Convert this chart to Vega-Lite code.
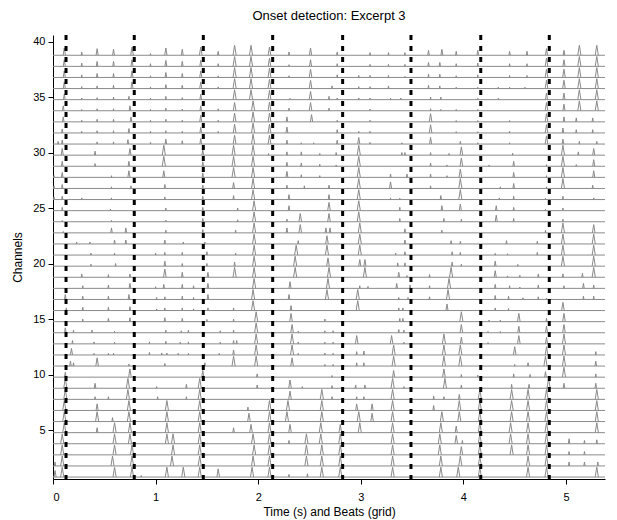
{"$schema":"https://vega.github.io/schema/vega-lite/v6.json","width":552,"height":444,"autosize":{"type":"none"},"padding":{"left":53,"top":35,"right":12,"bottom":41},"background":"white","config":{"font":"Liberation Sans","view":{"stroke":null},"axis":{"grid":false,"tickSize":5,"labelFontSize":11,"titleFontSize":12,"titleFontWeight":"normal","domainColor":"#000","tickColor":"#000","labelColor":"#000","titleColor":"#000"}},"title":{"text":"Onset detection: Excerpt 3","fontSize":13,"fontWeight":"normal","color":"#000","offset":11},
"datasets":{"channels":[{"c":1},{"c":2},{"c":3},{"c":4},{"c":5},{"c":6},{"c":7},{"c":8},{"c":9},{"c":10},{"c":11},{"c":12},{"c":13},{"c":14},{"c":15},{"c":16},{"c":17},{"c":18},{"c":19},{"c":20},{"c":21},{"c":22},{"c":23},{"c":24},{"c":25},{"c":26},{"c":27},{"c":28},{"c":29},{"c":30},{"c":31},{"c":32},{"c":33},{"c":34},{"c":35},{"c":36},{"c":37},{"c":38},{"c":39}],
"beats":[{"t":0.127},{"t":0.792},{"t":1.465},{"t":2.141},{"t":2.823},{"t":3.489},{"t":4.169},{"t":4.837}],
"peaks":[
{"c":39,"t":0.11,"h":0.66},{"c":39,"t":0.28,"h":0.3},{"c":39,"t":0.43,"h":0.6},{"c":39,"t":0.59,"h":0.54},{"c":39,"t":0.77,"h":0.75},{"c":39,"t":0.95,"h":0.15},{"c":39,"t":1.10,"h":0.66},{"c":39,"t":1.26,"h":0.54},{"c":39,"t":1.44,"h":0.75},{"c":39,"t":1.61,"h":0.36},{"c":39,"t":1.77,"h":0.9},{"c":39,"t":1.93,"h":0.9},{"c":39,"t":2.11,"h":0.75},{"c":39,"t":2.30,"h":0.3},{"c":39,"t":2.51,"h":0.66},{"c":39,"t":2.77,"h":0.3},{"c":39,"t":3.09,"h":0.24},{"c":39,"t":3.27,"h":0.24},{"c":39,"t":3.43,"h":0.24},{"c":39,"t":3.66,"h":0.45},{"c":39,"t":3.79,"h":0.54},{"c":39,"t":3.93,"h":0.36},{"c":39,"t":4.14,"h":0.45},{"c":39,"t":4.45,"h":0.36},{"c":39,"t":4.62,"h":0.36},{"c":39,"t":4.81,"h":0.6},{"c":39,"t":4.98,"h":0.45},{"c":39,"t":5.13,"h":0.9},{"c":39,"t":5.30,"h":0.9},
{"c":38,"t":0.11,"h":0.6},{"c":38,"t":0.28,"h":0.3},{"c":38,"t":0.43,"h":0.45},{"c":38,"t":0.59,"h":0.45},{"c":38,"t":0.77,"h":0.6},{"c":38,"t":0.95,"h":0.24},{"c":38,"t":1.10,"h":0.54},{"c":38,"t":1.26,"h":0.45},{"c":38,"t":1.44,"h":0.54},{"c":38,"t":1.61,"h":0.24},{"c":38,"t":1.77,"h":0.9},{"c":38,"t":1.93,"h":0.9},{"c":38,"t":2.11,"h":0.75},{"c":38,"t":2.30,"h":0.15},{"c":38,"t":2.51,"h":0.6},{"c":38,"t":2.77,"h":0.24},{"c":38,"t":3.09,"h":0.18},{"c":38,"t":3.27,"h":0.18},{"c":38,"t":3.43,"h":0.18},{"c":38,"t":3.66,"h":0.36},{"c":38,"t":3.77,"h":0.36},{"c":38,"t":3.93,"h":0.24},{"c":38,"t":4.14,"h":0.3},{"c":38,"t":4.45,"h":0.24},{"c":38,"t":4.62,"h":0.24},{"c":38,"t":4.81,"h":0.75},{"c":38,"t":4.98,"h":0.6},{"c":38,"t":5.13,"h":0.9},{"c":38,"t":5.30,"h":0.9},
{"c":37,"t":0.11,"h":0.6},{"c":37,"t":0.28,"h":0.24},{"c":37,"t":0.43,"h":0.36},{"c":37,"t":0.59,"h":0.36},{"c":37,"t":0.77,"h":0.6},{"c":37,"t":0.95,"h":0.15},{"c":37,"t":1.10,"h":0.45},{"c":37,"t":1.26,"h":0.36},{"c":37,"t":1.44,"h":0.6},{"c":37,"t":1.61,"h":0.15},{"c":37,"t":1.77,"h":0.9},{"c":37,"t":1.93,"h":0.9},{"c":37,"t":2.11,"h":0.84},{"c":37,"t":2.30,"h":0.15},{"c":37,"t":2.51,"h":0.75},{"c":37,"t":2.77,"h":0.24},{"c":37,"t":2.98,"h":0.18},{"c":37,"t":3.09,"h":0.18},{"c":37,"t":3.27,"h":0.18},{"c":37,"t":3.43,"h":0.1},{"c":37,"t":3.66,"h":0.3},{"c":37,"t":3.77,"h":0.3},{"c":37,"t":3.93,"h":0.15},{"c":37,"t":4.14,"h":0.24},{"c":37,"t":4.45,"h":0.18},{"c":37,"t":4.62,"h":0.18},{"c":37,"t":4.81,"h":0.75},{"c":37,"t":4.98,"h":0.75},{"c":37,"t":5.13,"h":0.9},{"c":37,"t":5.30,"h":0.9},
{"c":36,"t":0.11,"h":0.6},{"c":36,"t":0.28,"h":0.18},{"c":36,"t":0.43,"h":0.24},{"c":36,"t":0.59,"h":0.3},{"c":36,"t":0.77,"h":0.6},{"c":36,"t":0.95,"h":0.15},{"c":36,"t":1.10,"h":0.36},{"c":36,"t":1.26,"h":0.3},{"c":36,"t":1.44,"h":0.6},{"c":36,"t":1.61,"h":0.15},{"c":36,"t":1.77,"h":0.9},{"c":36,"t":1.93,"h":0.9},{"c":36,"t":2.11,"h":0.84},{"c":36,"t":2.51,"h":0.75},{"c":36,"t":2.72,"h":0.24},{"c":36,"t":2.98,"h":0.18},{"c":36,"t":3.09,"h":0.18},{"c":36,"t":3.27,"h":0.24},{"c":36,"t":3.66,"h":0.3},{"c":36,"t":3.77,"h":0.24},{"c":36,"t":3.93,"h":0.12},{"c":36,"t":4.14,"h":0.12},{"c":36,"t":4.34,"h":0.12},{"c":36,"t":4.45,"h":0.12},{"c":36,"t":4.60,"h":0.12},{"c":36,"t":4.81,"h":0.75},{"c":36,"t":4.98,"h":0.75},{"c":36,"t":5.13,"h":0.9},{"c":36,"t":5.30,"h":0.9},
{"c":35,"t":0.11,"h":0.5},{"c":35,"t":0.28,"h":0.15},{"c":35,"t":0.43,"h":0.18},{"c":35,"t":0.59,"h":0.24},{"c":35,"t":0.74,"h":0.3},{"c":35,"t":0.95,"h":0.15},{"c":35,"t":1.10,"h":0.3},{"c":35,"t":1.26,"h":0.18},{"c":35,"t":1.44,"h":0.5},{"c":35,"t":1.77,"h":0.9},{"c":35,"t":1.93,"h":0.9},{"c":35,"t":2.11,"h":0.84},{"c":35,"t":2.31,"h":0.12},{"c":35,"t":2.51,"h":0.75},{"c":35,"t":2.69,"h":0.3},{"c":35,"t":2.77,"h":0.15},{"c":35,"t":2.98,"h":0.15},{"c":35,"t":3.09,"h":0.15},{"c":35,"t":3.29,"h":0.15},{"c":35,"t":3.39,"h":0.15},{"c":35,"t":3.68,"h":0.24},{"c":35,"t":3.78,"h":0.24},{"c":35,"t":4.14,"h":0.12},{"c":35,"t":4.34,"h":0.12},{"c":35,"t":4.81,"h":0.6},{"c":35,"t":4.98,"h":0.6},{"c":35,"t":5.13,"h":0.9},{"c":35,"t":5.30,"h":0.9},
{"c":34,"t":0.10,"h":0.45},{"c":34,"t":0.28,"h":0.12},{"c":34,"t":0.43,"h":0.18},{"c":34,"t":0.59,"h":0.18},{"c":34,"t":0.75,"h":0.45},{"c":34,"t":0.95,"h":0.12},{"c":34,"t":1.10,"h":0.24},{"c":34,"t":1.26,"h":0.15},{"c":34,"t":1.44,"h":0.45},{"c":34,"t":1.61,"h":0.18},{"c":34,"t":1.77,"h":0.75},{"c":34,"t":1.95,"h":0.9},{"c":34,"t":2.11,"h":0.8},{"c":34,"t":2.30,"h":0.24},{"c":34,"t":2.51,"h":0.75},{"c":34,"t":2.69,"h":0.24},{"c":34,"t":3.09,"h":0.15},{"c":34,"t":3.68,"h":0.18},{"c":34,"t":3.78,"h":0.12},{"c":34,"t":3.93,"h":0.12},{"c":34,"t":4.14,"h":0.12},{"c":34,"t":4.81,"h":0.75},{"c":34,"t":4.98,"h":0.6},{"c":34,"t":5.13,"h":0.9},{"c":34,"t":5.30,"h":0.9},
{"c":33,"t":0.10,"h":0.45},{"c":33,"t":0.28,"h":0.15},{"c":33,"t":0.43,"h":0.24},{"c":33,"t":0.59,"h":0.24},{"c":33,"t":0.76,"h":0.45},{"c":33,"t":0.95,"h":0.15},{"c":33,"t":1.10,"h":0.24},{"c":33,"t":1.26,"h":0.15},{"c":33,"t":1.44,"h":0.6},{"c":33,"t":1.61,"h":0.15},{"c":33,"t":1.77,"h":0.8},{"c":33,"t":1.95,"h":0.9},{"c":33,"t":2.11,"h":0.8},{"c":33,"t":2.28,"h":0.45},{"c":33,"t":2.52,"h":0.66},{"c":33,"t":2.77,"h":0.15},{"c":33,"t":3.09,"h":0.15},{"c":33,"t":3.68,"h":0.75},{"c":33,"t":3.93,"h":0.12},{"c":33,"t":4.14,"h":0.12},{"c":33,"t":4.45,"h":0.12},{"c":33,"t":4.81,"h":0.75},{"c":33,"t":4.98,"h":0.45},{"c":33,"t":5.10,"h":0.36},{"c":33,"t":5.26,"h":0.36},
{"c":32,"t":0.09,"h":0.36},{"c":32,"t":0.28,"h":0.15},{"c":32,"t":0.43,"h":0.2},{"c":32,"t":0.59,"h":0.2},{"c":32,"t":0.74,"h":0.4},{"c":32,"t":0.95,"h":0.15},{"c":32,"t":1.10,"h":0.2},{"c":32,"t":1.26,"h":0.15},{"c":32,"t":1.44,"h":0.5},{"c":32,"t":1.61,"h":0.15},{"c":32,"t":1.77,"h":0.8},{"c":32,"t":1.95,"h":0.9},{"c":32,"t":2.11,"h":0.8},{"c":32,"t":2.28,"h":0.54},{"c":32,"t":2.77,"h":0.3},{"c":32,"t":2.98,"h":0.15},{"c":32,"t":3.09,"h":0.15},{"c":32,"t":3.68,"h":0.75},{"c":32,"t":3.93,"h":0.12},{"c":32,"t":4.14,"h":0.12},{"c":32,"t":4.45,"h":0.15},{"c":32,"t":4.81,"h":0.75},{"c":32,"t":4.97,"h":0.45},{"c":32,"t":5.10,"h":0.3},{"c":32,"t":5.26,"h":0.3},
{"c":31,"t":0.05,"h":0.24},{"c":31,"t":0.09,"h":0.36},{"c":31,"t":0.43,"h":0.2},{"c":31,"t":0.59,"h":0.2},{"c":31,"t":0.73,"h":0.4},{"c":31,"t":0.95,"h":0.15},{"c":31,"t":1.10,"h":0.45},{"c":31,"t":1.26,"h":0.3},{"c":31,"t":1.44,"h":0.5},{"c":31,"t":1.77,"h":0.8},{"c":31,"t":1.95,"h":0.9},{"c":31,"t":2.11,"h":0.8},{"c":31,"t":2.28,"h":0.36},{"c":31,"t":2.42,"h":0.12},{"c":31,"t":2.54,"h":0.12},{"c":31,"t":2.77,"h":0.36},{"c":31,"t":2.98,"h":0.6},{"c":31,"t":3.09,"h":0.15},{"c":31,"t":3.40,"h":0.12},{"c":31,"t":3.68,"h":0.6},{"c":31,"t":3.97,"h":0.24},{"c":31,"t":4.14,"h":0.12},{"c":31,"t":4.45,"h":0.12},{"c":31,"t":4.81,"h":0.75},{"c":31,"t":4.97,"h":0.45},{"c":31,"t":5.13,"h":0.24},{"c":31,"t":5.30,"h":0.24},
{"c":30,"t":0.09,"h":0.6},{"c":30,"t":0.41,"h":0.36},{"c":30,"t":0.75,"h":0.6},{"c":30,"t":1.08,"h":0.9},{"c":30,"t":1.46,"h":0.5},{"c":30,"t":1.76,"h":0.9},{"c":30,"t":1.95,"h":0.9},{"c":30,"t":2.10,"h":0.15},{"c":30,"t":2.28,"h":0.3},{"c":30,"t":2.42,"h":0.3},{"c":30,"t":2.60,"h":0.15},{"c":30,"t":2.76,"h":0.24},{"c":30,"t":2.98,"h":0.9},{"c":30,"t":3.40,"h":0.24},{"c":30,"t":3.43,"h":0.24},{"c":30,"t":3.68,"h":0.24},{"c":30,"t":3.86,"h":0.15},{"c":30,"t":3.98,"h":0.75},{"c":30,"t":4.48,"h":0.18},{"c":30,"t":4.97,"h":0.9},{"c":30,"t":5.12,"h":0.3},{"c":30,"t":5.27,"h":0.6},
{"c":29,"t":0.09,"h":0.45},{"c":29,"t":0.41,"h":0.24},{"c":29,"t":0.74,"h":0.45},{"c":29,"t":1.08,"h":0.9},{"c":29,"t":1.46,"h":0.4},{"c":29,"t":1.76,"h":0.9},{"c":29,"t":1.95,"h":0.9},{"c":29,"t":2.28,"h":0.36},{"c":29,"t":2.42,"h":0.3},{"c":29,"t":2.60,"h":0.18},{"c":29,"t":2.76,"h":0.12},{"c":29,"t":2.98,"h":0.9},{"c":29,"t":3.68,"h":0.3},{"c":29,"t":3.84,"h":0.12},{"c":29,"t":3.98,"h":0.75},{"c":29,"t":4.25,"h":0.12},{"c":29,"t":4.49,"h":0.45},{"c":29,"t":4.81,"h":0.15},{"c":29,"t":4.97,"h":0.9},{"c":29,"t":5.10,"h":0.15},{"c":29,"t":5.27,"h":0.6},
{"c":28,"t":0.01,"h":0.15},{"c":28,"t":0.09,"h":0.45},{"c":28,"t":0.57,"h":0.15},{"c":28,"t":0.74,"h":0.6},{"c":28,"t":1.08,"h":0.6},{"c":28,"t":1.46,"h":0.4},{"c":28,"t":1.76,"h":0.9},{"c":28,"t":1.95,"h":0.9},{"c":28,"t":2.28,"h":0.54},{"c":28,"t":2.42,"h":0.24},{"c":28,"t":2.60,"h":0.15},{"c":28,"t":2.98,"h":0.9},{"c":28,"t":3.29,"h":0.3},{"c":28,"t":3.45,"h":0.3},{"c":28,"t":3.68,"h":0.3},{"c":28,"t":3.84,"h":0.15},{"c":28,"t":3.97,"h":0.75},{"c":28,"t":4.49,"h":0.45},{"c":28,"t":4.81,"h":0.15},{"c":28,"t":4.97,"h":0.9},{"c":28,"t":5.27,"h":0.6},
{"c":27,"t":0.01,"h":0.24},{"c":27,"t":0.09,"h":0.36},{"c":27,"t":0.57,"h":0.15},{"c":27,"t":0.76,"h":0.24},{"c":27,"t":1.09,"h":0.36},{"c":27,"t":1.46,"h":0.3},{"c":27,"t":1.76,"h":0.54},{"c":27,"t":1.95,"h":0.9},{"c":27,"t":2.28,"h":0.3},{"c":27,"t":2.45,"h":0.24},{"c":27,"t":2.69,"h":0.3},{"c":27,"t":2.98,"h":0.9},{"c":27,"t":3.29,"h":0.6},{"c":27,"t":3.68,"h":0.24},{"c":27,"t":3.97,"h":0.9},{"c":27,"t":4.36,"h":0.15},{"c":27,"t":4.49,"h":0.45},{"c":27,"t":4.81,"h":0.15},{"c":27,"t":4.97,"h":0.9},{"c":27,"t":5.26,"h":0.3},
{"c":26,"t":0.01,"h":0.24},{"c":26,"t":0.09,"h":0.3},{"c":26,"t":0.28,"h":0.15},{"c":26,"t":0.57,"h":0.15},{"c":26,"t":1.09,"h":0.24},{"c":26,"t":1.46,"h":0.3},{"c":26,"t":1.76,"h":0.36},{"c":26,"t":1.95,"h":0.9},{"c":26,"t":2.30,"h":0.45},{"c":26,"t":2.69,"h":0.45},{"c":26,"t":2.98,"h":0.9},{"c":26,"t":3.29,"h":0.15},{"c":26,"t":3.38,"h":0.12},{"c":26,"t":3.78,"h":0.36},{"c":26,"t":3.97,"h":0.9},{"c":26,"t":4.35,"h":0.15},{"c":26,"t":4.49,"h":0.3},{"c":26,"t":4.80,"h":0.12},{"c":26,"t":4.97,"h":0.3},{"c":26,"t":5.27,"h":0.15},
{"c":25,"t":0.09,"h":0.3},{"c":25,"t":0.56,"h":0.15},{"c":25,"t":1.10,"h":0.24},{"c":25,"t":1.46,"h":0.3},{"c":25,"t":1.80,"h":0.24},{"c":25,"t":1.96,"h":0.9},{"c":25,"t":2.30,"h":0.45},{"c":25,"t":2.69,"h":0.75},{"c":25,"t":2.98,"h":0.9},{"c":25,"t":3.38,"h":0.3},{"c":25,"t":3.79,"h":0.45},{"c":25,"t":3.97,"h":0.6},{"c":25,"t":4.32,"h":0.45},{"c":25,"t":4.49,"h":0.3},{"c":25,"t":4.80,"h":0.12},{"c":25,"t":4.97,"h":0.24},
{"c":24,"t":0.09,"h":0.12},{"c":24,"t":0.57,"h":0.12},{"c":24,"t":1.10,"h":0.15},{"c":24,"t":1.46,"h":0.3},{"c":24,"t":1.80,"h":0.18},{"c":24,"t":1.96,"h":0.9},{"c":24,"t":2.28,"h":0.24},{"c":24,"t":2.41,"h":0.75},{"c":24,"t":2.69,"h":0.75},{"c":24,"t":2.98,"h":0.9},{"c":24,"t":3.38,"h":0.3},{"c":24,"t":3.81,"h":0.3},{"c":24,"t":3.98,"h":0.24},{"c":24,"t":4.32,"h":0.6},{"c":24,"t":4.49,"h":0.3},{"c":24,"t":4.97,"h":0.24},
{"c":23,"t":0.10,"h":0.12},{"c":23,"t":0.57,"h":0.45},{"c":23,"t":0.71,"h":0.45},{"c":23,"t":1.10,"h":0.24},{"c":23,"t":1.46,"h":0.3},{"c":23,"t":1.78,"h":0.24},{"c":23,"t":1.96,"h":0.9},{"c":23,"t":2.28,"h":0.45},{"c":23,"t":2.41,"h":0.75},{"c":23,"t":2.66,"h":0.45},{"c":23,"t":2.70,"h":0.45},{"c":23,"t":2.99,"h":0.9},{"c":23,"t":3.43,"h":0.36},{"c":23,"t":3.79,"h":0.24},{"c":23,"t":4.80,"h":0.24},{"c":23,"t":4.97,"h":0.9},{"c":23,"t":5.27,"h":0.75},
{"c":22,"t":0.23,"h":0.18},{"c":22,"t":0.36,"h":0.18},{"c":22,"t":0.60,"h":0.36},{"c":22,"t":0.71,"h":0.36},{"c":22,"t":1.09,"h":0.36},{"c":22,"t":1.27,"h":0.18},{"c":22,"t":1.48,"h":0.18},{"c":22,"t":1.96,"h":0.9},{"c":22,"t":2.39,"h":0.3},{"c":22,"t":2.67,"h":0.75},{"c":22,"t":2.99,"h":0.9},{"c":22,"t":3.43,"h":0.36},{"c":22,"t":3.88,"h":0.3},{"c":22,"t":3.97,"h":0.24},{"c":22,"t":4.42,"h":0.3},{"c":22,"t":4.72,"h":0.24},{"c":22,"t":4.97,"h":0.9},{"c":22,"t":5.27,"h":0.9},
{"c":21,"t":0.37,"h":0.18},{"c":21,"t":0.60,"h":0.18},{"c":21,"t":1.00,"h":0.18},{"c":21,"t":1.09,"h":0.24},{"c":21,"t":1.26,"h":0.24},{"c":21,"t":1.50,"h":0.3},{"c":21,"t":1.78,"h":0.18},{"c":21,"t":1.96,"h":0.9},{"c":21,"t":2.37,"h":0.9},{"c":21,"t":2.67,"h":0.9},{"c":21,"t":2.99,"h":0.9},{"c":21,"t":3.34,"h":0.18},{"c":21,"t":3.43,"h":0.3},{"c":21,"t":3.89,"h":0.3},{"c":21,"t":3.97,"h":0.24},{"c":21,"t":4.31,"h":0.15},{"c":21,"t":4.43,"h":0.12},{"c":21,"t":4.72,"h":0.24},{"c":21,"t":4.97,"h":0.9},{"c":21,"t":5.27,"h":0.9},
{"c":20,"t":0.37,"h":0.18},{"c":20,"t":0.61,"h":0.24},{"c":20,"t":1.09,"h":0.45},{"c":20,"t":1.26,"h":0.24},{"c":20,"t":1.50,"h":0.24},{"c":20,"t":1.77,"h":0.36},{"c":20,"t":1.96,"h":0.9},{"c":20,"t":2.36,"h":0.9},{"c":20,"t":2.68,"h":0.75},{"c":20,"t":2.99,"h":0.6},{"c":20,"t":3.04,"h":0.6},{"c":20,"t":3.36,"h":0.3},{"c":20,"t":3.43,"h":0.3},{"c":20,"t":3.89,"h":0.36},{"c":20,"t":3.98,"h":0.18},{"c":20,"t":4.31,"h":0.45},{"c":20,"t":4.53,"h":0.15},{"c":20,"t":4.97,"h":0.9},{"c":20,"t":5.27,"h":0.9},
{"c":19,"t":0.28,"h":0.3},{"c":19,"t":0.54,"h":0.24},{"c":19,"t":0.75,"h":0.3},{"c":19,"t":1.09,"h":0.75},{"c":19,"t":1.26,"h":0.45},{"c":19,"t":1.51,"h":0.45},{"c":19,"t":1.77,"h":0.9},{"c":19,"t":1.96,"h":0.9},{"c":19,"t":2.36,"h":0.9},{"c":19,"t":2.69,"h":0.9},{"c":19,"t":3.04,"h":0.9},{"c":19,"t":3.37,"h":0.45},{"c":19,"t":3.45,"h":0.15},{"c":19,"t":3.67,"h":0.24},{"c":19,"t":3.88,"h":0.9},{"c":19,"t":4.31,"h":0.6},{"c":19,"t":4.43,"h":0.12},{"c":19,"t":4.55,"h":0.18},{"c":19,"t":4.73,"h":0.3},{"c":19,"t":4.97,"h":0.3},{"c":19,"t":5.16,"h":0.36},{"c":19,"t":5.27,"h":0.9},
{"c":18,"t":0.29,"h":0.24},{"c":18,"t":0.54,"h":0.3},{"c":18,"t":0.75,"h":0.45},{"c":18,"t":1.00,"h":0.15},{"c":18,"t":1.08,"h":0.36},{"c":18,"t":1.26,"h":0.36},{"c":18,"t":1.37,"h":0.24},{"c":18,"t":1.51,"h":0.45},{"c":18,"t":1.96,"h":0.9},{"c":18,"t":2.31,"h":0.6},{"c":18,"t":2.68,"h":0.9},{"c":18,"t":2.99,"h":0.24},{"c":18,"t":3.07,"h":0.18},{"c":18,"t":3.35,"h":0.45},{"c":18,"t":3.48,"h":0.3},{"c":18,"t":3.67,"h":0.24},{"c":18,"t":3.86,"h":0.9},{"c":18,"t":4.31,"h":0.36},{"c":18,"t":4.45,"h":0.24},{"c":18,"t":4.55,"h":0.12},{"c":18,"t":4.73,"h":0.3},{"c":18,"t":4.98,"h":0.24},{"c":18,"t":5.17,"h":0.45},{"c":18,"t":5.27,"h":0.3},
{"c":17,"t":0.12,"h":0.45},{"c":17,"t":0.29,"h":0.3},{"c":17,"t":0.54,"h":0.3},{"c":17,"t":0.74,"h":0.45},{"c":17,"t":1.01,"h":0.18},{"c":17,"t":1.09,"h":0.24},{"c":17,"t":1.26,"h":0.3},{"c":17,"t":1.37,"h":0.18},{"c":17,"t":1.51,"h":0.45},{"c":17,"t":1.95,"h":0.9},{"c":17,"t":2.30,"h":0.45},{"c":17,"t":2.67,"h":0.9},{"c":17,"t":2.97,"h":0.9},{"c":17,"t":3.37,"h":0.18},{"c":17,"t":3.46,"h":0.18},{"c":17,"t":3.67,"h":0.24},{"c":17,"t":3.85,"h":0.9},{"c":17,"t":4.31,"h":0.36},{"c":17,"t":4.44,"h":0.3},{"c":17,"t":4.58,"h":0.15},{"c":17,"t":4.73,"h":0.24},{"c":17,"t":4.81,"h":0.12},{"c":17,"t":5.17,"h":0.3},{"c":17,"t":5.27,"h":0.3},
{"c":16,"t":0.13,"h":0.24},{"c":16,"t":0.29,"h":0.3},{"c":16,"t":0.54,"h":0.3},{"c":16,"t":0.75,"h":0.36},{"c":16,"t":1.01,"h":0.15},{"c":16,"t":1.09,"h":0.24},{"c":16,"t":1.26,"h":0.24},{"c":16,"t":1.37,"h":0.15},{"c":16,"t":1.51,"h":0.24},{"c":16,"t":1.76,"h":0.24},{"c":16,"t":1.95,"h":0.9},{"c":16,"t":2.32,"h":0.45},{"c":16,"t":2.97,"h":0.9},{"c":16,"t":3.37,"h":0.24},{"c":16,"t":3.41,"h":0.24},{"c":16,"t":3.84,"h":0.6},{"c":16,"t":4.31,"h":0.24},{"c":16,"t":4.44,"h":0.18},{"c":16,"t":4.97,"h":0.75},
{"c":15,"t":0.29,"h":0.24},{"c":15,"t":0.54,"h":0.3},{"c":15,"t":0.75,"h":0.36},{"c":15,"t":1.09,"h":0.36},{"c":15,"t":1.26,"h":0.3},{"c":15,"t":1.50,"h":0.2},{"c":15,"t":1.76,"h":0.24},{"c":15,"t":1.98,"h":0.9},{"c":15,"t":2.32,"h":0.75},{"c":15,"t":2.65,"h":0.24},{"c":15,"t":3.38,"h":0.3},{"c":15,"t":3.41,"h":0.3},{"c":15,"t":3.98,"h":0.9},{"c":15,"t":4.25,"h":0.15},{"c":15,"t":4.36,"h":0.15},{"c":15,"t":4.54,"h":0.75},{"c":15,"t":4.81,"h":0.3},{"c":15,"t":4.98,"h":0.75},
{"c":14,"t":0.12,"h":0.45},{"c":14,"t":0.20,"h":0.24},{"c":14,"t":0.38,"h":0.24},{"c":14,"t":0.60,"h":0.15},{"c":14,"t":1.10,"h":0.24},{"c":14,"t":1.25,"h":0.18},{"c":14,"t":1.32,"h":0.24},{"c":14,"t":1.63,"h":0.18},{"c":14,"t":1.76,"h":0.24},{"c":14,"t":1.98,"h":0.9},{"c":14,"t":2.33,"h":0.75},{"c":14,"t":2.39,"h":0.15},{"c":14,"t":2.65,"h":0.18},{"c":14,"t":2.73,"h":0.18},{"c":14,"t":3.37,"h":0.3},{"c":14,"t":3.42,"h":0.24},{"c":14,"t":3.98,"h":0.75},{"c":14,"t":4.24,"h":0.12},{"c":14,"t":4.36,"h":0.12},{"c":14,"t":4.54,"h":0.6},{"c":14,"t":4.81,"h":0.6},{"c":14,"t":4.98,"h":0.75},
{"c":13,"t":0.19,"h":0.3},{"c":13,"t":0.40,"h":0.18},{"c":13,"t":0.60,"h":0.15},{"c":13,"t":0.94,"h":0.18},{"c":13,"t":1.10,"h":0.24},{"c":13,"t":1.24,"h":0.15},{"c":13,"t":1.32,"h":0.18},{"c":13,"t":1.63,"h":0.15},{"c":13,"t":1.76,"h":0.3},{"c":13,"t":1.79,"h":0.3},{"c":13,"t":1.98,"h":0.9},{"c":13,"t":2.33,"h":0.9},{"c":13,"t":2.39,"h":0.18},{"c":13,"t":2.65,"h":0.15},{"c":13,"t":2.73,"h":0.15},{"c":13,"t":2.96,"h":0.75},{"c":13,"t":3.30,"h":0.75},{"c":13,"t":3.42,"h":0.15},{"c":13,"t":3.81,"h":0.9},{"c":13,"t":3.98,"h":0.6},{"c":13,"t":4.24,"h":0.12},{"c":13,"t":4.54,"h":0.75},{"c":13,"t":4.81,"h":0.6},{"c":13,"t":4.98,"h":0.9},
{"c":12,"t":0.18,"h":0.6},{"c":12,"t":0.40,"h":0.15},{"c":12,"t":0.54,"h":0.15},{"c":12,"t":0.59,"h":0.15},{"c":12,"t":0.94,"h":0.24},{"c":12,"t":1.06,"h":0.18},{"c":12,"t":1.11,"h":0.18},{"c":12,"t":1.22,"h":0.15},{"c":12,"t":1.32,"h":0.15},{"c":12,"t":1.62,"h":0.15},{"c":12,"t":1.76,"h":0.45},{"c":12,"t":1.98,"h":0.9},{"c":12,"t":2.33,"h":0.9},{"c":12,"t":2.39,"h":0.15},{"c":12,"t":2.65,"h":0.18},{"c":12,"t":2.73,"h":0.15},{"c":12,"t":2.96,"h":0.3},{"c":12,"t":3.03,"h":0.36},{"c":12,"t":3.32,"h":0.9},{"c":12,"t":3.81,"h":0.9},{"c":12,"t":3.97,"h":0.9},{"c":12,"t":4.50,"h":0.75},{"c":12,"t":4.81,"h":0.75},{"c":12,"t":4.98,"h":0.9},{"c":12,"t":5.29,"h":0.3},
{"c":11,"t":0.17,"h":0.45},{"c":11,"t":0.20,"h":0.3},{"c":11,"t":0.43,"h":0.75},{"c":11,"t":0.74,"h":0.18},{"c":11,"t":1.09,"h":0.24},{"c":11,"t":1.48,"h":0.3},{"c":11,"t":1.76,"h":0.9},{"c":11,"t":1.98,"h":0.9},{"c":11,"t":2.33,"h":0.75},{"c":11,"t":2.65,"h":0.15},{"c":11,"t":2.73,"h":0.15},{"c":11,"t":2.96,"h":0.3},{"c":11,"t":3.03,"h":0.3},{"c":11,"t":3.32,"h":0.9},{"c":11,"t":3.81,"h":0.9},{"c":11,"t":3.97,"h":0.9},{"c":11,"t":4.50,"h":0.15},{"c":11,"t":4.63,"h":0.3},{"c":11,"t":4.80,"h":0.9},{"c":11,"t":4.98,"h":0.9},{"c":11,"t":5.29,"h":0.45},
{"c":10,"t":0.12,"h":0.45},{"c":10,"t":0.75,"h":0.75},{"c":10,"t":1.46,"h":0.6},{"c":10,"t":1.99,"h":0.3},{"c":10,"t":2.72,"h":0.15},{"c":10,"t":3.32,"h":0.6},{"c":10,"t":3.81,"h":0.75},{"c":10,"t":3.98,"h":0.24},{"c":10,"t":4.14,"h":0.18},{"c":10,"t":4.49,"h":0.3},{"c":10,"t":4.65,"h":0.24},{"c":10,"t":4.80,"h":0.5},{"c":10,"t":4.98,"h":0.9},{"c":10,"t":5.29,"h":0.3},
{"c":9,"t":0.12,"h":0.9},{"c":9,"t":0.41,"h":0.45},{"c":9,"t":0.73,"h":0.9},{"c":9,"t":1.01,"h":0.15},{"c":9,"t":1.30,"h":0.36},{"c":9,"t":1.43,"h":0.9},{"c":9,"t":1.99,"h":0.3},{"c":9,"t":2.31,"h":0.75},{"c":9,"t":2.43,"h":0.15},{"c":9,"t":2.72,"h":0.24},{"c":9,"t":2.95,"h":0.3},{"c":9,"t":3.04,"h":0.3},{"c":9,"t":3.31,"h":0.9},{"c":9,"t":3.42,"h":0.15},{"c":9,"t":3.82,"h":0.9},{"c":9,"t":3.98,"h":0.3},{"c":9,"t":4.47,"h":0.36},{"c":9,"t":4.64,"h":0.36},{"c":9,"t":4.83,"h":0.9},{"c":9,"t":4.98,"h":0.45},{"c":9,"t":5.29,"h":0.45},
{"c":8,"t":0.12,"h":0.9},{"c":8,"t":0.41,"h":0.24},{"c":8,"t":0.54,"h":0.24},{"c":8,"t":0.73,"h":0.9},{"c":8,"t":1.02,"h":0.24},{"c":8,"t":1.30,"h":0.24},{"c":8,"t":1.43,"h":0.9},{"c":8,"t":2.31,"h":0.75},{"c":8,"t":2.62,"h":0.9},{"c":8,"t":2.72,"h":0.24},{"c":8,"t":2.96,"h":0.24},{"c":8,"t":3.03,"h":0.24},{"c":8,"t":3.31,"h":0.9},{"c":8,"t":3.71,"h":0.3},{"c":8,"t":3.81,"h":0.24},{"c":8,"t":3.96,"h":0.45},{"c":8,"t":4.16,"h":0.9},{"c":8,"t":4.47,"h":0.9},{"c":8,"t":4.63,"h":0.9},{"c":8,"t":4.81,"h":0.9},{"c":8,"t":5.30,"h":0.9},
{"c":7,"t":0.11,"h":0.9},{"c":7,"t":0.43,"h":0.6},{"c":7,"t":0.74,"h":0.9},{"c":7,"t":1.11,"h":0.9},{"c":7,"t":1.43,"h":0.9},{"c":7,"t":1.90,"h":0.3},{"c":7,"t":2.11,"h":0.9},{"c":7,"t":2.29,"h":0.9},{"c":7,"t":2.62,"h":0.9},{"c":7,"t":2.96,"h":0.6},{"c":7,"t":3.11,"h":0.6},{"c":7,"t":3.31,"h":0.9},{"c":7,"t":3.71,"h":0.45},{"c":7,"t":3.96,"h":0.9},{"c":7,"t":4.16,"h":0.9},{"c":7,"t":4.47,"h":0.9},{"c":7,"t":4.63,"h":0.9},{"c":7,"t":4.81,"h":0.9},{"c":7,"t":5.30,"h":0.9},
{"c":6,"t":0.11,"h":0.9},{"c":6,"t":0.43,"h":0.9},{"c":6,"t":0.58,"h":0.36},{"c":6,"t":0.74,"h":0.9},{"c":6,"t":1.11,"h":0.9},{"c":6,"t":1.43,"h":0.9},{"c":6,"t":1.91,"h":0.75},{"c":6,"t":2.11,"h":0.9},{"c":6,"t":2.28,"h":0.9},{"c":6,"t":2.62,"h":0.9},{"c":6,"t":2.98,"h":0.9},{"c":6,"t":3.11,"h":0.75},{"c":6,"t":3.31,"h":0.9},{"c":6,"t":3.79,"h":0.9},{"c":6,"t":3.96,"h":0.9},{"c":6,"t":4.16,"h":0.9},{"c":6,"t":4.47,"h":0.9},{"c":6,"t":4.63,"h":0.9},{"c":6,"t":4.81,"h":0.9},{"c":6,"t":5.30,"h":0.9},
{"c":5,"t":0.11,"h":0.9},{"c":5,"t":0.43,"h":0.45},{"c":5,"t":0.60,"h":0.9},{"c":5,"t":0.75,"h":0.9},{"c":5,"t":1.11,"h":0.9},{"c":5,"t":1.43,"h":0.9},{"c":5,"t":1.76,"h":0.45},{"c":5,"t":1.93,"h":0.75},{"c":5,"t":2.11,"h":0.9},{"c":5,"t":2.31,"h":0.75},{"c":5,"t":2.61,"h":0.9},{"c":5,"t":2.80,"h":0.75},{"c":5,"t":2.99,"h":0.9},{"c":5,"t":3.31,"h":0.9},{"c":5,"t":3.78,"h":0.9},{"c":5,"t":3.93,"h":0.6},{"c":5,"t":4.16,"h":0.9},{"c":5,"t":4.46,"h":0.9},{"c":5,"t":4.63,"h":0.9},{"c":5,"t":4.81,"h":0.9},{"c":5,"t":5.30,"h":0.9},
{"c":4,"t":0.09,"h":0.9},{"c":4,"t":0.60,"h":0.9},{"c":4,"t":0.75,"h":0.9},{"c":4,"t":1.11,"h":0.9},{"c":4,"t":1.17,"h":0.9},{"c":4,"t":1.43,"h":0.9},{"c":4,"t":1.95,"h":0.9},{"c":4,"t":2.11,"h":0.9},{"c":4,"t":2.30,"h":0.3},{"c":4,"t":2.47,"h":0.9},{"c":4,"t":2.61,"h":0.9},{"c":4,"t":2.80,"h":0.9},{"c":4,"t":3.31,"h":0.9},{"c":4,"t":3.77,"h":0.9},{"c":4,"t":3.93,"h":0.75},{"c":4,"t":3.99,"h":0.3},{"c":4,"t":4.16,"h":0.9},{"c":4,"t":4.46,"h":0.9},{"c":4,"t":4.63,"h":0.9},{"c":4,"t":4.81,"h":0.9},{"c":4,"t":5.03,"h":0.45},{"c":4,"t":5.18,"h":0.3},{"c":4,"t":5.30,"h":0.36},
{"c":3,"t":0.09,"h":0.9},{"c":3,"t":0.60,"h":0.9},{"c":3,"t":0.77,"h":0.9},{"c":3,"t":1.17,"h":0.9},{"c":3,"t":1.43,"h":0.9},{"c":3,"t":1.96,"h":0.9},{"c":3,"t":2.11,"h":0.9},{"c":3,"t":2.47,"h":0.9},{"c":3,"t":2.62,"h":0.9},{"c":3,"t":2.80,"h":0.9},{"c":3,"t":3.31,"h":0.9},{"c":3,"t":3.77,"h":0.9},{"c":3,"t":3.98,"h":0.75},{"c":3,"t":4.16,"h":0.9},{"c":3,"t":4.47,"h":0.9},{"c":3,"t":4.63,"h":0.9},{"c":3,"t":4.81,"h":0.9},{"c":3,"t":5.03,"h":0.3},{"c":3,"t":5.18,"h":0.3},
{"c":2,"t":0.02,"h":0.36},{"c":2,"t":0.09,"h":0.9},{"c":2,"t":0.58,"h":0.9},{"c":2,"t":0.77,"h":0.9},{"c":2,"t":1.16,"h":0.9},{"c":2,"t":1.43,"h":0.9},{"c":2,"t":1.95,"h":0.9},{"c":2,"t":2.11,"h":0.9},{"c":2,"t":2.47,"h":0.9},{"c":2,"t":2.62,"h":0.9},{"c":2,"t":2.80,"h":0.9},{"c":2,"t":3.31,"h":0.9},{"c":2,"t":3.78,"h":0.9},{"c":2,"t":3.97,"h":0.9},{"c":2,"t":4.16,"h":0.9},{"c":2,"t":4.63,"h":0.9},{"c":2,"t":4.81,"h":0.9},{"c":2,"t":5.03,"h":0.36},{"c":2,"t":5.18,"h":0.36},{"c":2,"t":5.31,"h":0.36},
{"c":1,"t":0.02,"h":0.6},{"c":1,"t":0.09,"h":0.9},{"c":1,"t":0.60,"h":0.9},{"c":1,"t":0.77,"h":0.9},{"c":1,"t":0.86,"h":0.15},{"c":1,"t":1.11,"h":0.9},{"c":1,"t":1.27,"h":0.9},{"c":1,"t":1.43,"h":0.9},{"c":1,"t":1.61,"h":0.75},{"c":1,"t":1.94,"h":0.9},{"c":1,"t":2.11,"h":0.9},{"c":1,"t":2.30,"h":0.24},{"c":1,"t":2.48,"h":0.3},{"c":1,"t":2.62,"h":0.9},{"c":1,"t":2.80,"h":0.9},{"c":1,"t":3.31,"h":0.9},{"c":1,"t":3.78,"h":0.9},{"c":1,"t":3.95,"h":0.9},{"c":1,"t":4.16,"h":0.9},{"c":1,"t":4.63,"h":0.9},{"c":1,"t":4.81,"h":0.9},{"c":1,"t":5.30,"h":0.9}
]},
"layer":[
{"data":{"name":"channels"},"mark":{"type":"rule","color":"#8a8a8a","strokeWidth":1,"yOffset":2.5},"encoding":{"y":{"field":"c","type":"quantitative","scale":{"domain":[0.6,40.6],"nice":false,"zero":false},"axis":{"values":[5,10,15,20,25,30,35,40],"title":"Channels","labelPadding":3,"titlePadding":8}}}},
{"data":{"name":"peaks"},"mark":{"type":"point","shape":"M-0.16,0L0,-1L0.16,0","filled":false,"stroke":"#8a8a8a","strokeWidth":1,"opacity":1,"yOffset":2.5,"clip":true},"encoding":{"x":{"field":"t","type":"quantitative","scale":{"domain":[0,5.38],"nice":false,"zero":false},"axis":{"values":[0,1,2,3,4,5],"format":"d","title":"Time (s) and Beats (grid)","labelPadding":7,"titlePadding":4}},"y":{"field":"c","type":"quantitative"},"size":{"field":"h","type":"quantitative","scale":{"type":"pow","exponent":2,"domain":[0,1],"range":[0,484]},"legend":null}}},
{"data":{"name":"beats"},"mark":{"type":"rule","color":"#000","strokeWidth":3,"strokeDash":[5,6]},"encoding":{"x":{"field":"t","type":"quantitative"}}}
]}
